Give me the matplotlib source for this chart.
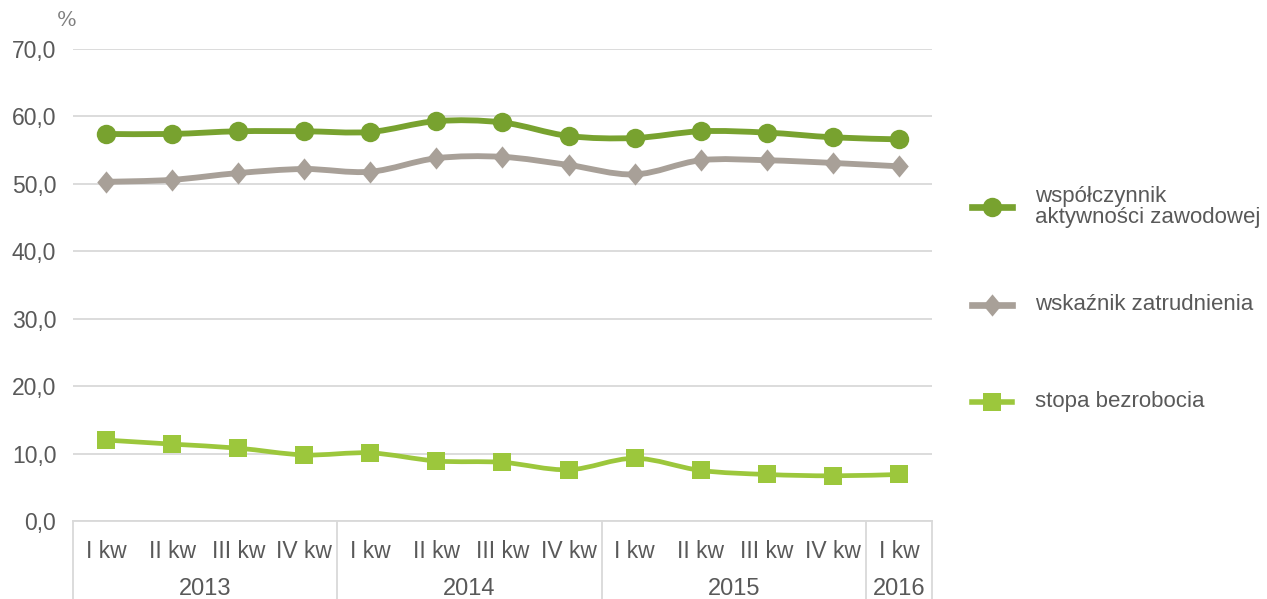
import matplotlib
matplotlib.use("Agg")
import matplotlib.pyplot as plt
from matplotlib.lines import Line2D
from matplotlib.path import Path
from matplotlib.patches import PathPatch

plt.rcParams['font.family'] = ['Liberation Sans', 'DejaVu Sans']

quarters = ['I kw', 'II kw', 'III kw', 'IV kw',
            'I kw', 'II kw', 'III kw', 'IV kw',
            'I kw', 'II kw', 'III kw', 'IV kw',
            'I kw']
years = ['2013', '2014', '2015', '2016']
quarters_per_year = [4, 4, 4, 1]

aktywnosc = [57.4, 57.4, 57.8, 57.8, 57.7, 59.3, 59.1, 57.1, 56.8, 57.8, 57.6, 56.9, 56.6]
zatrudnienie = [50.3, 50.6, 51.6, 52.2, 51.8, 53.8, 54.0, 52.8, 51.4, 53.5, 53.5, 53.1, 52.6]
bezrobocie = [12.0, 11.4, 10.8, 9.8, 10.1, 8.9, 8.7, 7.6, 9.3, 7.5, 6.9, 6.7, 6.9]

series_labels = ['współczynnik\naktywności zawodowej', 'wskaźnik zatrudnienia', 'stopa bezrobocia']

text_col = '#595959'
grid_col = '#d9d9d9'
diamond = [(0, 1.2), (1, 0), (0, -1.2), (-1, 0), (0, 1.2)]
styles = [
    dict(color='#78a22f', marker='o', markersize=14, lw=4.2),
    dict(color='#a8a098', marker=diamond, markersize=16, lw=4.2),
    dict(color='#9cc73c', marker='s', markersize=12.5, lw=3.4),
]


def smooth_path(xs, ys, k=1 / 6):
    # Catmull-Rom style bezier, like Excel's smoothed line
    verts = [(xs[0], ys[0])]
    codes = [Path.MOVETO]
    n = len(xs)
    for i in range(n - 1):
        x0, y0 = (xs[i - 1], ys[i - 1]) if i > 0 else (xs[i], ys[i])
        x1, y1 = xs[i], ys[i]
        x2, y2 = xs[i + 1], ys[i + 1]
        x3, y3 = (xs[i + 2], ys[i + 2]) if i + 2 < n else (x2, y2)
        verts += [(x1 + (x2 - x0) * k, y1 + (y2 - y0) * k),
                  (x2 - (x3 - x1) * k, y2 - (y3 - y1) * k),
                  (x2, y2)]
        codes += [Path.CURVE4] * 3
    return Path(verts, codes)


fig = plt.figure(figsize=(12.67, 5.99), dpi=100)
ax = fig.add_axes([73 / 1267, 78 / 599, 859 / 1267, 472 / 599])

x = list(range(len(quarters)))
for vals, st in zip([aktywnosc, zatrudnienie, bezrobocie], styles):
    ax.add_patch(PathPatch(smooth_path(x, vals), fill=False, edgecolor=st['color'],
                           lw=st['lw'], capstyle='round', joinstyle='round', zorder=3))
    ax.plot(x, vals, linestyle='none', color=st['color'], marker=st['marker'],
            markersize=st['markersize'], markeredgewidth=0, zorder=4)

ax.set_xlim(-0.5, len(quarters) - 0.5)
ax.set_ylim(0, 70)
ax.set_yticks(range(0, 71, 10))
ax.set_yticklabels([f'{v},0' for v in range(0, 71, 10)])
ax.yaxis.grid(True, color=grid_col, lw=1.3)
ax.set_axisbelow(True)
for s in ['left', 'right', 'top']:
    ax.spines[s].set_visible(False)
ax.spines['bottom'].set_color(grid_col)
ax.spines['bottom'].set_linewidth(1.3)
ax.tick_params(axis='y', length=0, pad=12, labelsize=16.5, labelcolor=text_col)
ax.set_xticks(x)
ax.set_xticklabels(quarters)
ax.tick_params(axis='x', length=0, pad=14, labelsize=16.5, labelcolor=text_col)

# category boxes under the axis
trans = ax.get_xaxis_transform()
pos = -0.5
bounds = [pos]
for n in quarters_per_year:
    pos += n
    bounds.append(pos)
for b in bounds:
    ax.plot([b, b], [0, -0.2], transform=trans, color=grid_col, lw=1.3, clip_on=False)
for i, yr in enumerate(years):
    mid = (bounds[i] + bounds[i + 1]) / 2
    ax.text(mid, -0.145, yr, transform=trans, ha='center', va='center',
            fontsize=17, color=text_col)

fig.text(67 / 1267, 1 - 21 / 599, '%', family='serif', fontsize=15,
         color='#7f7f7f', ha='center', va='center')

# legend drawn by hand
leg_y = [207, 305, 402]
for lab, st, ly in zip(series_labels, styles, leg_y):
    yy = 1 - ly / 599
    fig.add_artist(Line2D([972 / 1267, 1012 / 1267], [yy, yy], color=st['color'],
                          lw=st['lw'] + 0.6, transform=fig.transFigure))
    fig.add_artist(Line2D([992 / 1267], [yy], color=st['color'], marker=st['marker'],
                          markersize=st['markersize'], markeredgewidth=0,
                          transform=fig.transFigure))
    fig.text(1035 / 1267, yy, lab, fontsize=16, color=text_col, va='center',
             ha='left', linespacing=1.0)

fig.savefig('out.png', dpi=100)
